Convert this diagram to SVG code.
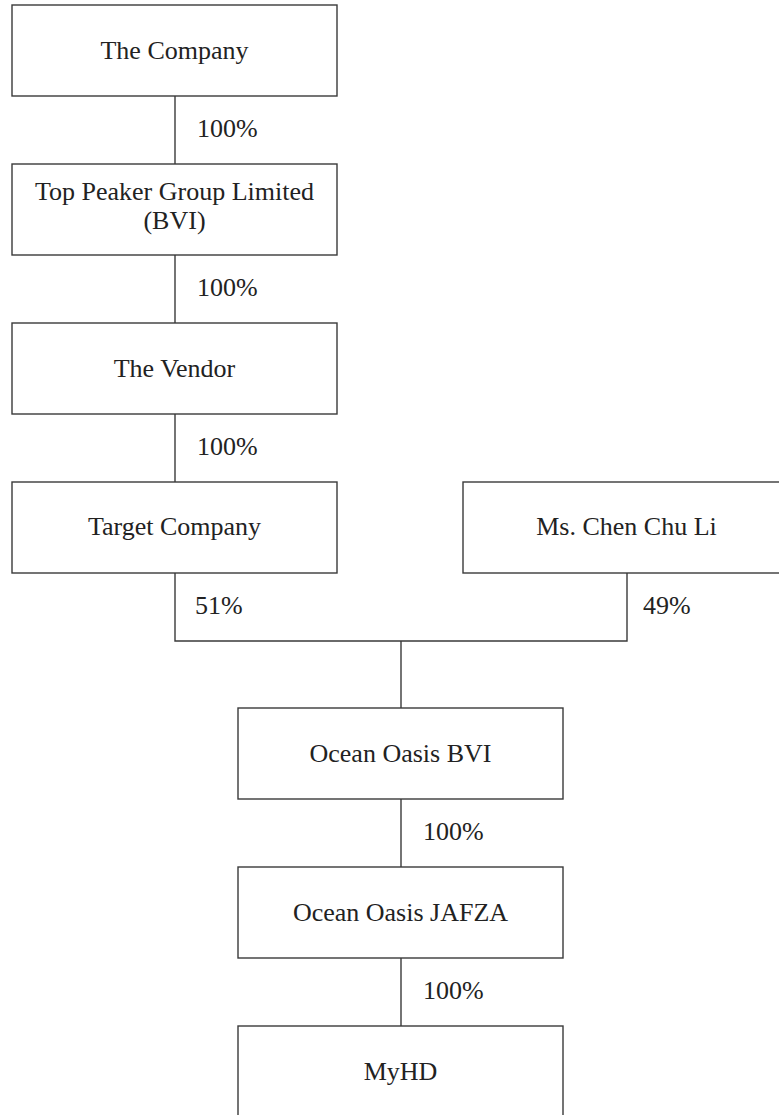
<svg xmlns="http://www.w3.org/2000/svg" width="779" height="1115" viewBox="0 0 779 1115">
<style>
.box{fill:#fff;stroke:#3a3a3a;stroke-width:1.4}
.ln{fill:none;stroke:#3a3a3a;stroke-width:1.4}
text{font-family:"Liberation Serif","Times New Roman",serif;font-size:26px;fill:#222}
.c{text-anchor:middle}
</style>
<rect width="779" height="1115" fill="#fff"/>
<g id="connectors">
<line class="ln" x1="175" y1="96" x2="175" y2="164"/>
<line class="ln" x1="175" y1="255" x2="175" y2="323"/>
<line class="ln" x1="175" y1="414" x2="175" y2="482"/>
<polyline class="ln" points="175,573 175,641 627,641 627,573"/>
<line class="ln" x1="401" y1="641" x2="401" y2="708"/>
<line class="ln" x1="401" y1="799" x2="401" y2="867"/>
<line class="ln" x1="401" y1="958" x2="401" y2="1026"/>
<text x="197" y="137">100%</text>
<text x="197" y="296">100%</text>
<text x="197" y="455">100%</text>
<text x="195" y="614">51%</text>
<text x="643" y="614">49%</text>
<text x="423" y="840">100%</text>
<text x="423" y="999">100%</text>
</g>
<g id="company"><rect class="box" x="12" y="5" width="325" height="91"/><text class="c" x="174.5" y="59">The Company</text></g>
<g id="toppeaker"><rect class="box" x="12" y="164" width="325" height="91"/><text class="c" x="174.5" y="200">Top Peaker Group Limited</text><text class="c" x="174.5" y="229">(BVI)</text></g>
<g id="vendor"><rect class="box" x="12" y="323" width="325" height="91"/><text class="c" x="174.5" y="377">The Vendor</text></g>
<g id="target"><rect class="box" x="12" y="482" width="325" height="91"/><text class="c" x="174.5" y="535">Target Company</text></g>
<g id="chen"><rect class="box" x="463" y="482" width="327" height="91"/><text class="c" x="626.5" y="535">Ms. Chen Chu Li</text></g>
<g id="oceanbvi"><rect class="box" x="238" y="708" width="325" height="91"/><text class="c" x="400.5" y="762">Ocean Oasis BVI</text></g>
<g id="oceanjafza"><rect class="box" x="238" y="867" width="325" height="91"/><text class="c" x="400.5" y="921">Ocean Oasis JAFZA</text></g>
<g id="myhd"><rect class="box" x="238" y="1026" width="325" height="100"/><text class="c" x="400.5" y="1080">MyHD</text></g>
</svg>
